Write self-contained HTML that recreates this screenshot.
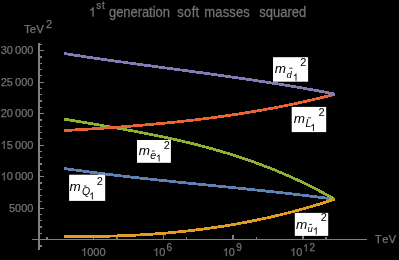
<!DOCTYPE html>
<html><head><meta charset="utf-8"><style>
html,body{margin:0;padding:0;background:#000;width:399px;height:260px;overflow:hidden}
svg{display:block;will-change:transform}
text{font-family:"Liberation Sans",sans-serif;fill:#737373}
.g{stroke:#737373;stroke-width:0.25;vector-effect:non-scaling-stroke}
</style></head><body>
<svg width="399" height="260" viewBox="0 0 399 260">
<rect width="399" height="260" fill="#000"/>
<rect x="38" y="43" width="2" height="207" fill="#808080"/>
<rect x="32" y="239" width="335" height="1" fill="#808080"/>
<rect x="40" y="245" width="2" height="2" fill="#808080"/>
<rect x="40" y="233" width="2" height="1" fill="#808080"/>
<rect x="40" y="226" width="2" height="2" fill="#808080"/>
<rect x="40" y="220" width="2" height="1" fill="#808080"/>
<rect x="40" y="214" width="2" height="1" fill="#808080"/>
<rect x="40" y="208" width="4" height="1" fill="#808080"/>
<rect x="40" y="201" width="2" height="1" fill="#808080"/>
<rect x="40" y="195" width="2" height="1" fill="#808080"/>
<rect x="40" y="189" width="2" height="1" fill="#808080"/>
<rect x="40" y="182" width="2" height="2" fill="#808080"/>
<rect x="40" y="176" width="4" height="1" fill="#808080"/>
<rect x="40" y="170" width="2" height="1" fill="#808080"/>
<rect x="40" y="163" width="2" height="2" fill="#808080"/>
<rect x="40" y="157" width="2" height="1" fill="#808080"/>
<rect x="40" y="151" width="2" height="1" fill="#808080"/>
<rect x="40" y="145" width="4" height="1" fill="#808080"/>
<rect x="40" y="138" width="2" height="1" fill="#808080"/>
<rect x="40" y="132" width="2" height="1" fill="#808080"/>
<rect x="40" y="126" width="2" height="1" fill="#808080"/>
<rect x="40" y="119" width="2" height="2" fill="#808080"/>
<rect x="40" y="113" width="4" height="1" fill="#808080"/>
<rect x="40" y="107" width="2" height="1" fill="#808080"/>
<rect x="40" y="100" width="2" height="2" fill="#808080"/>
<rect x="40" y="94" width="2" height="1" fill="#808080"/>
<rect x="40" y="88" width="2" height="1" fill="#808080"/>
<rect x="40" y="82" width="4" height="1" fill="#808080"/>
<rect x="40" y="75" width="2" height="1" fill="#808080"/>
<rect x="40" y="69" width="2" height="1" fill="#808080"/>
<rect x="40" y="63" width="2" height="1" fill="#808080"/>
<rect x="40" y="56" width="2" height="2" fill="#808080"/>
<rect x="40" y="50" width="4" height="1" fill="#808080"/>
<rect x="40" y="44" width="2" height="1" fill="#808080"/>
<rect x="46" y="237" width="2" height="2" fill="#808080"/>
<rect x="93" y="235" width="1" height="4" fill="#808080"/>
<rect x="116" y="237" width="2" height="2" fill="#808080"/>
<rect x="163" y="235" width="1" height="4" fill="#808080"/>
<rect x="186" y="237" width="1" height="2" fill="#808080"/>
<rect x="232" y="235" width="2" height="4" fill="#808080"/>
<rect x="256" y="237" width="1" height="2" fill="#808080"/>
<rect x="302" y="235" width="2" height="4" fill="#808080"/>
<rect x="325" y="237" width="2" height="2" fill="#808080"/>
<polyline points="64.00,168.46 66.28,168.79 68.55,169.12 70.83,169.44 73.10,169.76 75.38,170.08 77.65,170.39 79.93,170.71 82.21,171.01 84.48,171.32 86.76,171.62 89.03,171.93 91.31,172.22 93.58,172.52 95.86,172.81 98.13,173.10 100.41,173.39 102.69,173.67 104.96,173.96 107.24,174.24 109.51,174.52 111.79,174.79 114.06,175.07 116.34,175.34 118.62,175.61 120.89,175.88 123.17,176.14 125.44,176.41 127.72,176.67 129.99,176.93 132.27,177.19 134.54,177.44 136.82,177.70 139.10,177.95 141.37,178.20 143.65,178.45 145.92,178.70 148.20,178.95 150.47,179.20 152.75,179.44 155.03,179.68 157.30,179.93 159.58,180.17 161.85,180.41 164.13,180.65 166.40,180.89 168.68,181.12 170.95,181.36 173.23,181.59 175.51,181.83 177.78,182.06 180.06,182.29 182.33,182.53 184.61,182.76 186.88,182.99 189.16,183.22 191.44,183.45 193.71,183.68 195.99,183.91 198.26,184.14 200.54,184.37 202.81,184.60 205.09,184.82 207.36,185.05 209.64,185.28 211.92,185.51 214.19,185.74 216.47,185.97 218.74,186.19 221.02,186.42 223.29,186.65 225.57,186.88 227.85,187.11 230.12,187.34 232.40,187.57 234.67,187.80 236.95,188.03 239.22,188.27 241.50,188.50 243.77,188.73 246.05,188.97 248.33,189.20 250.60,189.44 252.88,189.67 255.15,189.91 257.43,190.15 259.70,190.39 261.98,190.63 264.26,190.87 266.53,191.12 268.81,191.36 271.08,191.61 273.36,191.85 275.63,192.10 277.91,192.35 280.18,192.60 282.46,192.86 284.74,193.11 287.01,193.37 289.29,193.63 291.56,193.89 293.84,194.15 296.11,194.41 298.39,194.68 300.67,194.95 302.94,195.22 305.22,195.49 307.49,195.76 309.77,196.04 312.04,196.31 314.32,196.59 316.59,196.88 318.87,197.16 321.15,197.45 323.42,197.74 325.70,198.03 327.97,198.33 330.25,198.63 332.52,198.93 334.80,199.23" fill="none" stroke="#5e81b5" stroke-width="2.8" stroke-linejoin="round" shape-rendering="crispEdges"/>
<polyline points="64.00,236.28 66.28,236.32 68.55,236.35 70.83,236.37 73.10,236.39 75.38,236.41 77.65,236.43 79.93,236.43 82.21,236.44 84.48,236.44 86.76,236.43 89.03,236.42 91.31,236.41 93.58,236.39 95.86,236.36 98.13,236.34 100.41,236.30 102.69,236.26 104.96,236.22 107.24,236.17 109.51,236.12 111.79,236.06 114.06,236.00 116.34,235.93 118.62,235.85 120.89,235.77 123.17,235.69 125.44,235.60 127.72,235.50 129.99,235.40 132.27,235.30 134.54,235.19 136.82,235.07 139.10,234.95 141.37,234.82 143.65,234.68 145.92,234.55 148.20,234.40 150.47,234.25 152.75,234.09 155.03,233.93 157.30,233.76 159.58,233.59 161.85,233.41 164.13,233.22 166.40,233.03 168.68,232.83 170.95,232.63 173.23,232.42 175.51,232.20 177.78,231.98 180.06,231.75 182.33,231.51 184.61,231.27 186.88,231.02 189.16,230.77 191.44,230.50 193.71,230.24 195.99,229.96 198.26,229.68 200.54,229.39 202.81,229.10 205.09,228.80 207.36,228.49 209.64,228.17 211.92,227.85 214.19,227.52 216.47,227.19 218.74,226.85 221.02,226.50 223.29,226.14 225.57,225.78 227.85,225.41 230.12,225.03 232.40,224.64 234.67,224.25 236.95,223.85 239.22,223.44 241.50,223.03 243.77,222.61 246.05,222.18 248.33,221.74 250.60,221.30 252.88,220.84 255.15,220.39 257.43,219.92 259.70,219.44 261.98,218.96 264.26,218.47 266.53,217.97 268.81,217.46 271.08,216.95 273.36,216.43 275.63,215.90 277.91,215.36 280.18,214.81 282.46,214.26 284.74,213.70 287.01,213.13 289.29,212.55 291.56,211.96 293.84,211.36 296.11,210.76 298.39,210.15 300.67,209.53 302.94,208.90 305.22,208.26 307.49,207.61 309.77,206.96 312.04,206.29 314.32,205.62 316.59,204.94 318.87,204.25 321.15,203.55 323.42,202.84 325.70,202.13 327.97,201.40 330.25,200.67 332.52,199.92 334.80,199.17" fill="none" stroke="#e19c24" stroke-width="2.8" stroke-linejoin="round" shape-rendering="crispEdges"/>
<polyline points="64.00,119.13 66.28,119.51 68.55,119.89 70.83,120.27 73.10,120.65 75.38,121.03 77.65,121.41 79.93,121.79 82.21,122.17 84.48,122.55 86.76,122.93 89.03,123.31 91.31,123.69 93.58,124.08 95.86,124.46 98.13,124.84 100.41,125.23 102.69,125.62 104.96,126.01 107.24,126.40 109.51,126.79 111.79,127.18 114.06,127.58 116.34,127.98 118.62,128.38 120.89,128.79 123.17,129.19 125.44,129.60 127.72,130.02 129.99,130.43 132.27,130.85 134.54,131.28 136.82,131.70 139.10,132.13 141.37,132.57 143.65,133.01 145.92,133.45 148.20,133.90 150.47,134.35 152.75,134.80 155.03,135.27 157.30,135.73 159.58,136.20 161.85,136.68 164.13,137.16 166.40,137.65 168.68,138.14 170.95,138.64 173.23,139.15 175.51,139.66 177.78,140.18 180.06,140.70 182.33,141.23 184.61,141.77 186.88,142.31 189.16,142.86 191.44,143.42 193.71,143.99 195.99,144.56 198.26,145.14 200.54,145.73 202.81,146.32 205.09,146.93 207.36,147.54 209.64,148.16 211.92,148.79 214.19,149.43 216.47,150.08 218.74,150.73 221.02,151.40 223.29,152.07 225.57,152.75 227.85,153.45 230.12,154.15 232.40,154.86 234.67,155.58 236.95,156.31 239.22,157.06 241.50,157.81 243.77,158.57 246.05,159.35 248.33,160.13 250.60,160.93 252.88,161.73 255.15,162.55 257.43,163.38 259.70,164.22 261.98,165.07 264.26,165.94 266.53,166.81 268.81,167.70 271.08,168.60 273.36,169.52 275.63,170.44 277.91,171.38 280.18,172.33 282.46,173.30 284.74,174.27 287.01,175.26 289.29,176.27 291.56,177.29 293.84,178.32 296.11,179.36 298.39,180.42 300.67,181.49 302.94,182.58 305.22,183.68 307.49,184.80 309.77,185.93 312.04,187.08 314.32,188.24 316.59,189.42 318.87,190.61 321.15,191.82 323.42,193.04 325.70,194.28 327.97,195.53 330.25,196.80 332.52,198.09 334.80,199.39" fill="none" stroke="#8fb032" stroke-width="2.8" stroke-linejoin="round" shape-rendering="crispEdges"/>
<polyline points="64.00,130.56 66.28,130.43 68.55,130.30 70.83,130.17 73.10,130.04 75.38,129.90 77.65,129.77 79.93,129.63 82.21,129.49 84.48,129.36 86.76,129.21 89.03,129.07 91.31,128.93 93.58,128.78 95.86,128.64 98.13,128.49 100.41,128.34 102.69,128.18 104.96,128.03 107.24,127.87 109.51,127.71 111.79,127.55 114.06,127.39 116.34,127.23 118.62,127.06 120.89,126.89 123.17,126.72 125.44,126.54 127.72,126.37 129.99,126.19 132.27,126.01 134.54,125.82 136.82,125.64 139.10,125.45 141.37,125.26 143.65,125.06 145.92,124.87 148.20,124.67 150.47,124.47 152.75,124.26 155.03,124.05 157.30,123.84 159.58,123.63 161.85,123.41 164.13,123.19 166.40,122.97 168.68,122.74 170.95,122.51 173.23,122.27 175.51,122.04 177.78,121.80 180.06,121.55 182.33,121.31 184.61,121.06 186.88,120.80 189.16,120.54 191.44,120.28 193.71,120.02 195.99,119.75 198.26,119.47 200.54,119.20 202.81,118.92 205.09,118.63 207.36,118.34 209.64,118.05 211.92,117.75 214.19,117.45 216.47,117.14 218.74,116.83 221.02,116.52 223.29,116.20 225.57,115.88 227.85,115.55 230.12,115.22 232.40,114.88 234.67,114.54 236.95,114.20 239.22,113.85 241.50,113.49 243.77,113.13 246.05,112.76 248.33,112.40 250.60,112.02 252.88,111.64 255.15,111.26 257.43,110.87 259.70,110.47 261.98,110.07 264.26,109.67 266.53,109.26 268.81,108.84 271.08,108.42 273.36,107.99 275.63,107.56 277.91,107.12 280.18,106.68 282.46,106.23 284.74,105.78 287.01,105.32 289.29,104.85 291.56,104.38 293.84,103.90 296.11,103.42 298.39,102.93 300.67,102.43 302.94,101.93 305.22,101.42 307.49,100.91 309.77,100.39 312.04,99.86 314.32,99.33 316.59,98.79 318.87,98.25 321.15,97.70 323.42,97.14 325.70,96.57 327.97,96.00 330.25,95.43 332.52,94.84 334.80,94.25" fill="none" stroke="#eb6235" stroke-width="2.8" stroke-linejoin="round" shape-rendering="crispEdges"/>
<polyline points="64.00,53.51 66.28,53.87 68.55,54.22 70.83,54.58 73.10,54.93 75.38,55.28 77.65,55.62 79.93,55.97 82.21,56.31 84.48,56.65 86.76,56.99 89.03,57.32 91.31,57.66 93.58,57.99 95.86,58.32 98.13,58.65 100.41,58.98 102.69,59.31 104.96,59.63 107.24,59.96 109.51,60.28 111.79,60.60 114.06,60.92 116.34,61.24 118.62,61.56 120.89,61.87 123.17,62.19 125.44,62.50 127.72,62.82 129.99,63.13 132.27,63.44 134.54,63.75 136.82,64.06 139.10,64.37 141.37,64.68 143.65,64.99 145.92,65.30 148.20,65.61 150.47,65.91 152.75,66.22 155.03,66.52 157.30,66.83 159.58,67.14 161.85,67.44 164.13,67.75 166.40,68.05 168.68,68.36 170.95,68.66 173.23,68.97 175.51,69.27 177.78,69.58 180.06,69.88 182.33,70.19 184.61,70.50 186.88,70.80 189.16,71.11 191.44,71.42 193.71,71.73 195.99,72.03 198.26,72.34 200.54,72.65 202.81,72.96 205.09,73.28 207.36,73.59 209.64,73.90 211.92,74.22 214.19,74.53 216.47,74.85 218.74,75.16 221.02,75.48 223.29,75.80 225.57,76.12 227.85,76.45 230.12,76.77 232.40,77.09 234.67,77.42 236.95,77.75 239.22,78.08 241.50,78.41 243.77,78.74 246.05,79.08 248.33,79.41 250.60,79.75 252.88,80.09 255.15,80.43 257.43,80.78 259.70,81.12 261.98,81.47 264.26,81.82 266.53,82.17 268.81,82.53 271.08,82.88 273.36,83.24 275.63,83.60 277.91,83.97 280.18,84.33 282.46,84.70 284.74,85.07 287.01,85.45 289.29,85.82 291.56,86.20 293.84,86.59 296.11,86.97 298.39,87.36 300.67,87.75 302.94,88.14 305.22,88.54 307.49,88.94 309.77,89.34 312.04,89.75 314.32,90.16 316.59,90.57 318.87,90.99 321.15,91.41 323.42,91.83 325.70,92.26 327.97,92.69 330.25,93.12 332.52,93.56 334.80,94.00" fill="none" stroke="#8778b3" stroke-width="2.8" stroke-linejoin="round" shape-rendering="crispEdges"/>
<rect x="273" y="57.2" width="35.1" height="24.5" fill="#fff"/>
<rect x="291.7" y="106.9" width="34.5" height="25.2" fill="#fff"/>
<rect x="137" y="140" width="33.9" height="22.8" fill="#fff"/>
<rect x="69.1" y="174.7" width="36.1" height="26.2" fill="#fff"/>
<rect x="294.8" y="212.9" width="33.4" height="23.0" fill="#fff"/>
<path transform="translate(88.80,16.60) scale(0.00635,-0.00635)" d="M763 0H583V1147Q518 1085 412 1023Q305 961 220 930V1104Q373 1176 487 1278Q601 1380 649 1476H763V0Z" class="g" style="fill:#737373"/>
<text x="96.22" y="9.30" font-size="10" class="g">s</text>
<text x="102.12" y="9.30" font-size="10" class="g">t</text>
<g transform="translate(0,16.6) scale(1,1.06) translate(0,-16.6)" style="stroke:#737373;stroke-width:0.45">
<text x="109.05" y="16.60" font-size="13" class="g">g</text>
<text x="116.21" y="16.60" font-size="13" class="g">e</text>
<text x="123.37" y="16.60" font-size="13" class="g">n</text>
<text x="130.53" y="16.60" font-size="13" class="g">e</text>
<text x="137.69" y="16.60" font-size="13" class="g">r</text>
<text x="141.95" y="16.60" font-size="13" class="g">a</text>
<text x="149.11" y="16.60" font-size="13" class="g">t</text>
<text x="152.65" y="16.60" font-size="13" class="g">i</text>
<text x="155.47" y="16.60" font-size="13" class="g">o</text>
<text x="162.63" y="16.60" font-size="13" class="g">n</text>
<text x="177.24" y="16.60" font-size="13" class="g">s</text>
<text x="184.09" y="16.60" font-size="13" class="g">o</text>
<text x="191.67" y="16.60" font-size="13" class="g">f</text>
<text x="195.63" y="16.60" font-size="13" class="g">t</text>
<text x="204.34" y="16.60" font-size="13" class="g">m</text>
<text x="215.32" y="16.60" font-size="13" class="g">a</text>
<text x="222.70" y="16.60" font-size="13" class="g">s</text>
<text x="229.35" y="16.60" font-size="13" class="g">s</text>
<text x="236.00" y="16.60" font-size="13" class="g">e</text>
<text x="243.38" y="16.60" font-size="13" class="g">s</text>
<text x="259.24" y="16.60" font-size="13" class="g">squared</text>
</g>
<text x="24.04" y="32.60" font-size="11.5" class="g">TeV</text>
<text x="46.05" y="27.80" font-size="11" class="g">2</text>
<text x="0.64" y="54.20" font-size="11" class="g">30&#8201;000</text>
<text x="0.64" y="85.72" font-size="11" class="g">25&#8201;000</text>
<text x="0.64" y="117.23" font-size="11" class="g">20&#8201;000</text>
<path transform="translate(0.64,148.75) scale(0.00537,-0.00537)" d="M763 0H583V1147Q518 1085 412 1023Q305 961 220 930V1104Q373 1176 487 1278Q601 1380 649 1476H763V0Z" class="g" style="fill:#737373"/>
<text x="6.76" y="148.75" font-size="11" class="g">5&#8201;000</text>
<path transform="translate(0.64,180.27) scale(0.00537,-0.00537)" d="M763 0H583V1147Q518 1085 412 1023Q305 961 220 930V1104Q373 1176 487 1278Q601 1380 649 1476H763V0Z" class="g" style="fill:#737373"/>
<text x="6.76" y="180.27" font-size="11" class="g">0&#8201;000</text>
<text x="8.96" y="211.78" font-size="11" class="g">5000</text>
<path transform="translate(81.06,256.00) scale(0.00537,-0.00537)" d="M763 0H583V1147Q518 1085 412 1023Q305 961 220 930V1104Q373 1176 487 1278Q601 1380 649 1476H763V0Z" class="g" style="fill:#737373"/>
<text x="87.18" y="256.00" font-size="11" class="g">000</text>
<path transform="translate(153.12,256.00) scale(0.00537,-0.00537)" d="M763 0H583V1147Q518 1085 412 1023Q305 961 220 930V1104Q373 1176 487 1278Q601 1380 649 1476H763V0Z" class="g" style="fill:#737373"/>
<text x="159.24" y="256.00" font-size="11" class="g">0</text>
<text x="166.59" y="251.30" font-size="10" class="g">6</text>
<path transform="translate(222.72,256.00) scale(0.00537,-0.00537)" d="M763 0H583V1147Q518 1085 412 1023Q305 961 220 930V1104Q373 1176 487 1278Q601 1380 649 1476H763V0Z" class="g" style="fill:#737373"/>
<text x="228.84" y="256.00" font-size="11" class="g">0</text>
<text x="236.23" y="251.30" font-size="10" class="g">9</text>
<path transform="translate(290.12,256.00) scale(0.00537,-0.00537)" d="M763 0H583V1147Q518 1085 412 1023Q305 961 220 930V1104Q373 1176 487 1278Q601 1380 649 1476H763V0Z" class="g" style="fill:#737373"/>
<text x="296.24" y="256.00" font-size="11" class="g">0</text>
<path transform="translate(303.03,251.30) scale(0.00488,-0.00488)" d="M763 0H583V1147Q518 1085 412 1023Q305 961 220 930V1104Q373 1176 487 1278Q601 1380 649 1476H763V0Z" class="g" style="fill:#737373"/>
<text x="309.59" y="251.30" font-size="10" class="g">2</text>
<text x="374.95" y="243.00" font-size="11" class="g">T</text>
<text x="382.17" y="243.00" font-size="11" class="g">e</text>
<text x="388.79" y="243.00" font-size="11" class="g">V</text>
<text x="274.68" y="73.00" font-size="13.5" font-style="italic" style="fill:#000">m</text>
<text x="286.58" y="77.50" font-size="9.5" font-style="italic" style="fill:#000">d</text>
<path transform="translate(292.73,80.80) scale(0.00488,-0.00488)" d="M763 0H583V1147Q518 1085 412 1023Q305 961 220 930V1104Q373 1176 487 1278Q601 1380 649 1476H763V0Z" style="fill:#000"/>
<text x="300.35" y="65.80" font-size="11" style="fill:#000">2</text>
<path d="M289.30,68.20 h3.2" style="fill:none;stroke:#000;stroke-width:0.8"/>
<text x="293.68" y="122.80" font-size="13.5" font-style="italic" style="fill:#000">m</text>
<text x="305.58" y="127.30" font-size="10.5" font-style="italic" style="fill:#000">L</text>
<path transform="translate(310.13,131.00) scale(0.00488,-0.00488)" d="M763 0H583V1147Q518 1085 412 1023Q305 961 220 930V1104Q373 1176 487 1278Q601 1380 649 1476H763V0Z" style="fill:#000"/>
<text x="318.45" y="115.60" font-size="11" style="fill:#000">2</text>
<path d="M307.90,117.80 h3.2" style="fill:none;stroke:#000;stroke-width:0.8"/>
<text x="138.68" y="154.80" font-size="13.5" font-style="italic" style="fill:#000">m</text>
<text x="150.25" y="158.70" font-size="10.5" font-style="italic" style="fill:#000">e</text>
<path transform="translate(155.83,161.60) scale(0.00488,-0.00488)" d="M763 0H583V1147Q518 1085 412 1023Q305 961 220 930V1104Q373 1176 487 1278Q601 1380 649 1476H763V0Z" style="fill:#000"/>
<text x="163.65" y="148.70" font-size="11" style="fill:#000">2</text>
<path d="M151.80,151.00 h2.8" style="fill:none;stroke:#000;stroke-width:0.8"/>
<text x="69.58" y="191.00" font-size="13.5" font-style="italic" style="fill:#000">m</text>
<text x="81.88" y="194.60" font-size="10.5" font-style="italic" style="fill:#000">Q</text>
<path transform="translate(89.03,199.40) scale(0.00488,-0.00488)" d="M763 0H583V1147Q518 1085 412 1023Q305 961 220 930V1104Q373 1176 487 1278Q601 1380 649 1476H763V0Z" style="fill:#000"/>
<text x="96.65" y="184.90" font-size="11" style="fill:#000">2</text>
<path d="M83.90,186.00 h2.6" style="fill:none;stroke:#000;stroke-width:0.8"/>
<text x="295.98" y="228.50" font-size="13.5" font-style="italic" style="fill:#000">m</text>
<text x="307.60" y="231.70" font-size="9.5" font-style="italic" style="fill:#000">u</text>
<path transform="translate(312.93,234.50) scale(0.00488,-0.00488)" d="M763 0H583V1147Q518 1085 412 1023Q305 961 220 930V1104Q373 1176 487 1278Q601 1380 649 1476H763V0Z" style="fill:#000"/>
<text x="320.65" y="221.00" font-size="11" style="fill:#000">2</text>
<path d="M309.00,224.40 h3.0" style="fill:none;stroke:#000;stroke-width:0.8"/>
</svg>
</body></html>
